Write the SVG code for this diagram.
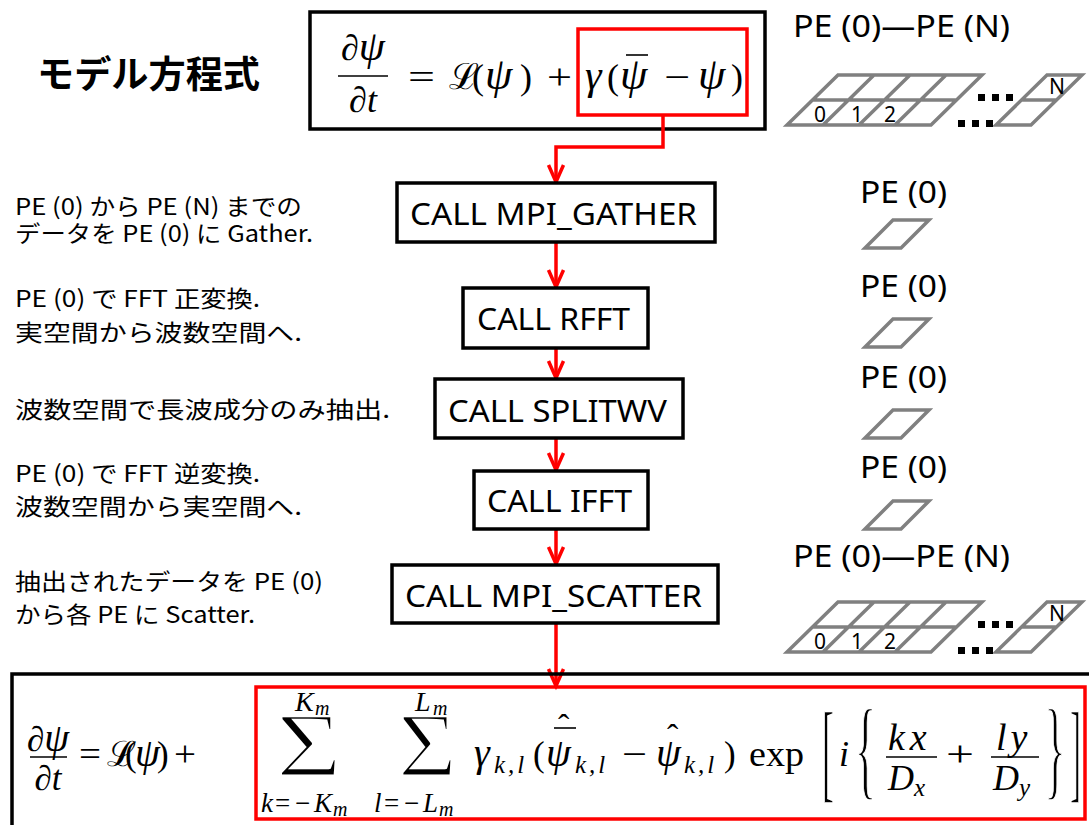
<svg xmlns="http://www.w3.org/2000/svg" width="1089" height="825" viewBox="0 0 1089 825">
<style>
.jp{font-family:"Noto Sans CJK JP","Noto Sans",sans-serif;fill:#000}
.lat{font-family:"Noto Sans","Open Sans",sans-serif;fill:#000}
.box{fill:#fff;stroke:#000;stroke-width:3.5}
.red{fill:none;stroke:#f00;stroke-width:3.5}
.grid{fill:none;stroke:#808080;stroke-width:3.5}
.dot{fill:#000}
.m{font-family:"Liberation Serif","DejaVu Serif",serif;fill:#000}
.i{font-style:italic}
.thin{stroke:#fff;stroke-width:2.5}
.thin2{stroke:#fff;stroke-width:1.6}
.rule{stroke:#000;stroke-width:1.6}
</style>
<defs>
<marker id="ah" markerUnits="userSpaceOnUse" markerWidth="24" markerHeight="20" viewBox="-22 -10 24 20" refX="0" refY="0" orient="auto" overflow="visible">
<path d="M-17,-7.5 L0,0 L-17,7.5" fill="none" stroke="#f00" stroke-width="3.5"/>
</marker>
<g id="pe1">
<path class="grid" d="M893,0 H929 L901,28 H865 Z"/>
</g>
<g id="grid">
<path class="grid" d="M838,75 H982 L931,125 H787 Z M812.5,100 H956.5 M874,75 L823,125 M910,75 L859,125 M946,75 L895,125"/>
<path class="grid" d="M1047,75 H1082 L1031,125 H996 Z M1021.5,100 H1056.5"/>
<rect class="dot" x="978" y="94" width="7" height="7"/>
<rect class="dot" x="992" y="94" width="7" height="7"/>
<rect class="dot" x="1006" y="94" width="7" height="7"/>
<rect class="dot" x="958" y="120" width="7" height="7"/>
<rect class="dot" x="972" y="120" width="7" height="7"/>
<rect class="dot" x="986" y="120" width="7" height="7"/>
<text class="lat" font-size="21" x="820" y="122" text-anchor="middle">0</text>
<text class="lat" font-size="21" x="857" y="122" text-anchor="middle">1</text>
<text class="lat" font-size="21" x="890" y="122" text-anchor="middle">2</text>
<text class="lat" font-size="21" x="1057" y="94" text-anchor="middle">N</text>
</g>
</defs>

<g id="title">
<text class="jp" font-size="37" font-weight="bold" x="37" y="88" textLength="223" lengthAdjust="spacingAndGlyphs">モデル方程式</text>
</g>

<g id="eq-top">
<rect class="box" x="310" y="12" width="455" height="117" stroke-width="4"/>
<rect class="red" x="578" y="29" width="169" height="86" stroke-width="3"/>
<text class="m" font-size="36" x="363" y="60" text-anchor="middle">∂<tspan class="i" font-size="42">ψ</tspan></text>
<line class="rule" x1="338" y1="76" x2="388" y2="76"/>
<text class="m" font-size="36" x="363" y="112" text-anchor="middle">∂<tspan class="i">t</tspan></text>
<text class="m" font-size="36" y="89"><tspan x="408" textLength="27" lengthAdjust="spacingAndGlyphs">=</tspan><tspan x="449">ℒ</tspan><tspan x="472">(</tspan><tspan x="485" class="i" font-size="44">ψ</tspan><tspan x="520">)</tspan><tspan x="547" textLength="25" lengthAdjust="spacingAndGlyphs">+</tspan><tspan x="585" class="i" font-size="42">γ</tspan><tspan x="607">(</tspan><tspan x="620" class="i" font-size="44">ψ</tspan><tspan x="664" textLength="26" lengthAdjust="spacingAndGlyphs">−</tspan><tspan x="698" class="i" font-size="44">ψ</tspan><tspan x="731">)</tspan></text>
<line class="rule" x1="626" y1="55" x2="648" y2="55"/>
</g>

<g id="pe-all-top">
<text class="lat" font-size="30" x="793" y="37" textLength="217" lengthAdjust="spacingAndGlyphs">PE (0)—PE (N)</text>
<use href="#grid"/>
</g>

<g id="pe-all-bottom">
<text class="lat" font-size="30" x="793" y="567" textLength="217" lengthAdjust="spacingAndGlyphs">PE (0)—PE (N)</text>
<use href="#grid" transform="translate(0,527)"/>
</g>

<g id="pe0-1">
<text class="lat" font-size="30" x="860" y="203" textLength="87" lengthAdjust="spacingAndGlyphs">PE (0)</text>
<use href="#pe1" transform="translate(0,220)"/>
</g>
<g id="pe0-2">
<text class="lat" font-size="30" x="860" y="297" textLength="87" lengthAdjust="spacingAndGlyphs">PE (0)</text>
<use href="#pe1" transform="translate(0,319)"/>
</g>
<g id="pe0-3">
<text class="lat" font-size="30" x="860" y="388" textLength="87" lengthAdjust="spacingAndGlyphs">PE (0)</text>
<use href="#pe1" transform="translate(0,410)"/>
</g>
<g id="pe0-4">
<text class="lat" font-size="30" x="860" y="478" textLength="87" lengthAdjust="spacingAndGlyphs">PE (0)</text>
<use href="#pe1" transform="translate(0,501)"/>
</g>

<g id="desc-gather">
<text class="jp" font-size="23" x="15" y="215" textLength="287" lengthAdjust="spacingAndGlyphs">PE (0) から PE (N) までの</text>
<text class="jp" font-size="23" x="15" y="242" textLength="298" lengthAdjust="spacingAndGlyphs">データを PE (0) に Gather.</text>
</g>
<g id="desc-rfft">
<text class="jp" font-size="23" x="15" y="307" textLength="245" lengthAdjust="spacingAndGlyphs">PE (0) で FFT 正変換.</text>
<text class="jp" font-size="23" x="15" y="341" textLength="287" lengthAdjust="spacingAndGlyphs">実空間から波数空間へ.</text>
</g>
<g id="desc-split">
<text class="jp" font-size="23" x="15" y="418" textLength="375" lengthAdjust="spacingAndGlyphs">波数空間で長波成分のみ抽出.</text>
</g>
<g id="desc-ifft">
<text class="jp" font-size="23" x="15" y="482" textLength="245" lengthAdjust="spacingAndGlyphs">PE (0) で FFT 逆変換.</text>
<text class="jp" font-size="23" x="15" y="515" textLength="287" lengthAdjust="spacingAndGlyphs">波数空間から実空間へ.</text>
</g>
<g id="desc-scatter">
<text class="jp" font-size="23" x="15" y="590" textLength="308" lengthAdjust="spacingAndGlyphs">抽出されたデータを PE (0)</text>
<text class="jp" font-size="23" x="15" y="623" textLength="240" lengthAdjust="spacingAndGlyphs">から各 PE に Scatter.</text>
</g>

<g id="connectors">
<path class="red" d="M663,115 V147 H556 V182" marker-end="url(#ah)"/>
<path class="red" d="M556,242 V287" marker-end="url(#ah)"/>
<path class="red" d="M556,348 V378" marker-end="url(#ah)"/>
<path class="red" d="M556,438 V470" marker-end="url(#ah)"/>
<path class="red" d="M556,529 V564" marker-end="url(#ah)"/>
<path class="red" d="M556,624 V686" marker-end="url(#ah)"/>
</g>

<g id="n-gather">
<rect class="box" x="397" y="183" width="318" height="59"/>
<text class="lat" font-size="31" x="410" y="225" textLength="287" lengthAdjust="spacingAndGlyphs">CALL MPI_GATHER</text>
</g>
<g id="n-rfft">
<rect class="box" x="463" y="288" width="185" height="60"/>
<text class="lat" font-size="31" x="477" y="330" textLength="153" lengthAdjust="spacingAndGlyphs">CALL RFFT</text>
</g>
<g id="n-splitwv">
<rect class="box" x="435" y="379" width="248" height="59"/>
<text class="lat" font-size="31" x="448" y="422" textLength="219" lengthAdjust="spacingAndGlyphs">CALL SPLITWV</text>
</g>
<g id="n-ifft">
<rect class="box" x="474" y="471" width="174" height="58"/>
<text class="lat" font-size="31" x="487" y="512" textLength="145" lengthAdjust="spacingAndGlyphs">CALL IFFT</text>
</g>
<g id="n-scatter">
<rect class="box" x="392" y="565" width="326" height="58"/>
<text class="lat" font-size="31" x="405" y="607" textLength="297" lengthAdjust="spacingAndGlyphs">CALL MPI_SCATTER</text>
</g>

<g id="eq-bottom">
<path d="M12,827 V674 H1092" fill="none" stroke="#000" stroke-width="3.5"/>
<rect class="red" x="256" y="687" width="829" height="132"/>
<text class="m" font-size="35" x="48" y="751" text-anchor="middle">∂<tspan class="i" font-size="40">ψ</tspan></text>
<line class="rule" x1="30" y1="757" x2="67" y2="757"/>
<text class="m" font-size="35" x="48" y="790" text-anchor="middle">∂<tspan class="i">t</tspan></text>
<text class="m" font-size="35" y="766"><tspan x="79" textLength="22" lengthAdjust="spacingAndGlyphs">=</tspan><tspan x="107">ℒ</tspan><tspan x="125">(</tspan><tspan x="135" class="i" font-size="40">ψ</tspan><tspan x="157">)</tspan><tspan x="174" textLength="22" lengthAdjust="spacingAndGlyphs">+</tspan></text>
<text class="m thin" font-size="90" x="276" y="776" textLength="66" lengthAdjust="spacingAndGlyphs">Σ</text>
<text class="m thin" font-size="90" x="398" y="776" textLength="59" lengthAdjust="spacingAndGlyphs">Σ</text>
<text class="m i" font-size="28" y="711"><tspan x="295">K</tspan><tspan x="315" dy="4" font-size="20">m</tspan></text>
<text class="m i" font-size="28" y="711"><tspan x="415">L</tspan><tspan x="433" dy="4" font-size="20">m</tspan></text>
<text class="m" font-size="27" y="812"><tspan x="261" class="i">k</tspan><tspan x="275">=</tspan><tspan x="295">−</tspan><tspan x="314" class="i">K</tspan><tspan x="333" dy="4" font-size="20" class="i">m</tspan></text>
<text class="m" font-size="27" y="812"><tspan x="374" class="i">l</tspan><tspan x="384">=</tspan><tspan x="404">−</tspan><tspan x="423" class="i">L</tspan><tspan x="439" dy="4" font-size="20" class="i">m</tspan></text>
<text class="m" font-size="35" y="766"><tspan x="474" class="i" font-size="40">γ</tspan><tspan x="494" dy="7" font-size="25" class="i" letter-spacing="3">k,l</tspan></text>
<text class="m" font-size="35" y="766"><tspan x="533">(</tspan><tspan x="546" class="i" font-size="40">ψ</tspan><tspan x="575" dy="7" font-size="25" class="i" letter-spacing="3">k,l</tspan><tspan x="622" dy="-7" textLength="25" lengthAdjust="spacingAndGlyphs">−</tspan><tspan x="656" class="i" font-size="40">ψ</tspan><tspan x="684" dy="7" font-size="25" class="i" letter-spacing="3">k,l</tspan><tspan x="724" dy="-7">)</tspan><tspan x="749" textLength="55" lengthAdjust="spacingAndGlyphs">exp</tspan></text>
<line class="rule" x1="554" y1="728" x2="576" y2="728"/>
<text class="m" font-size="34" x="558" y="738">ˆ</text>
<text class="m" font-size="34" x="667" y="748">ˆ</text>
<text class="m thin2" font-size="110" x="822" y="788" textLength="12" lengthAdjust="spacingAndGlyphs">[</text>
<text class="m i" font-size="36" x="839" y="766">i</text>
<text class="m thin2" font-size="110" x="855" y="785" textLength="21" lengthAdjust="spacingAndGlyphs">{</text>
<text class="m i" font-size="38" x="888" y="750" letter-spacing="5">kx</text>
<line class="rule" x1="886" y1="757" x2="937" y2="757"/>
<text class="m i" font-size="36" x="888" y="790">D<tspan font-size="25" dy="6">x</tspan></text>
<text class="m" font-size="35" x="946" y="766" textLength="28" lengthAdjust="spacingAndGlyphs">+</text>
<text class="m i" font-size="38" x="996" y="750" letter-spacing="4">ly</text>
<line class="rule" x1="991" y1="757" x2="1039" y2="757"/>
<text class="m i" font-size="36" x="993" y="790">D<tspan font-size="25" dy="6">y</tspan></text>
<text class="m thin2" font-size="110" x="1045" y="785" textLength="20" lengthAdjust="spacingAndGlyphs">}</text>
<text class="m thin2" font-size="110" x="1070" y="788" textLength="11" lengthAdjust="spacingAndGlyphs">]</text>
</g>
</svg>
